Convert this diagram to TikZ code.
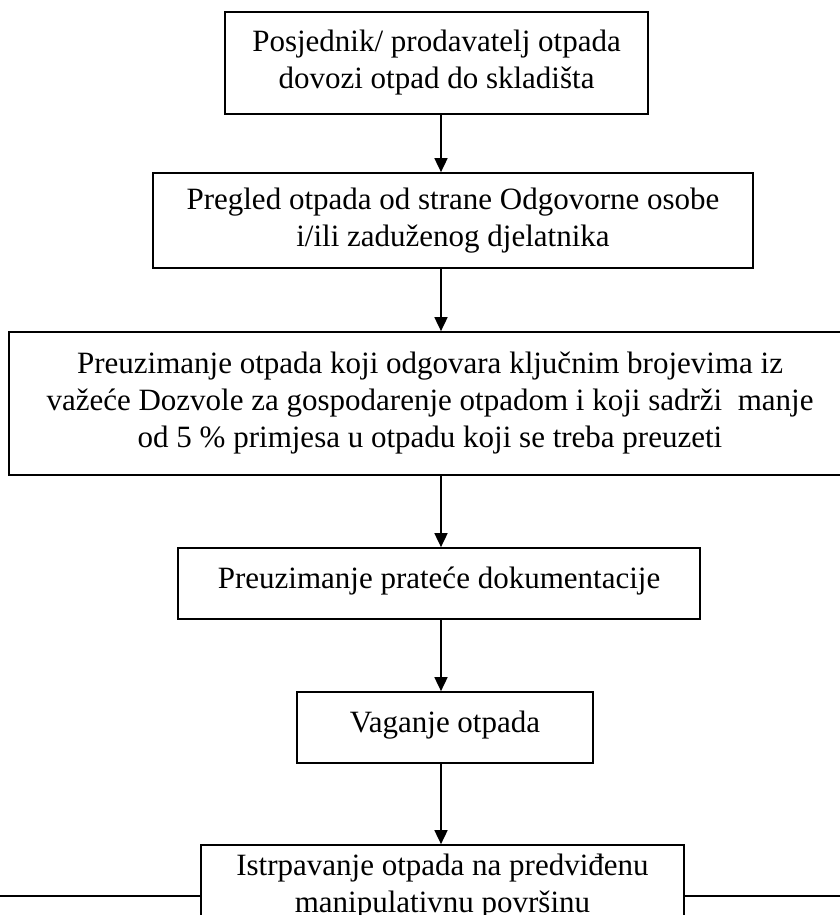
\documentclass[tikz,border=0pt]{standalone}
\usepackage{fontspec}
\setmainfont{Liberation Serif}
\usetikzlibrary{arrows.meta}
\begin{document}
\begin{tikzpicture}[x=1pt,y=-1pt,
  stepbox/.style={draw=black, line width=1.7pt, align=center, inner sep=0pt,
    font=\fontsize{31}{37}\selectfont},
  flow/.style={line width=1.7pt, -{Triangle[length=14pt,width=13pt]}},
  rule/.style={line width=1.3pt}]
\useasboundingbox (0,0) rectangle (840,915);
\clip (0,0) rectangle (840,915);

% process boxes, top to bottom
\node[stepbox, minimum width=423pt, minimum height=102pt] (b1) at (436.5,63)
  {Posjednik/ prodavatelj otpada\\dovozi otpad do skladišta};
\node[stepbox, minimum width=600pt, minimum height=95pt] (b2) at (453,220.5)
  {Pregled otpada od strane Odgovorne osobe\\i/ili zaduženog djelatnika};
\node[stepbox, minimum width=842pt, minimum height=143pt] (b3) at (430,403.5)
  {Preuzimanje otpada koji odgovara ključnim brojevima iz\\
   važeće Dozvole za gospodarenje otpadom i koji sadrži~ manje\\
   od 5 \% primjesa u otpadu koji se treba preuzeti};
\node[stepbox, minimum width=522pt, minimum height=71pt, text depth=12pt] (b4) at (439,583.5)
  {Preuzimanje prateće dokumentacije};
\node[stepbox, minimum width=296pt, minimum height=71pt, text depth=12pt] (b5) at (445,727.5)
  {Vaganje otpada};
\node[stepbox, minimum width=483pt, minimum height=84pt] (b6) at (442.5,887)
  {Istrpavanje otpada na predviđenu\\manipulativnu površinu};

% vertical flow axis
\coordinate (ax) at (441,0);
\draw[flow] (b1.south -| ax) -- (b2.north -| ax);
\draw[flow] (b2.south -| ax) -- (b3.north -| ax);
\draw[flow] (b3.south -| ax) -- (b4.north -| ax);
\draw[flow] (b4.south -| ax) -- (b5.north -| ax);
\draw[flow] (b5.south -| ax) -- (b6.north -| ax);

% horizontal rule running through the last box
\coordinate (rl) at (0,896);
\coordinate (rr) at (840,896);
\draw[rule] (rl) -- (rl -| b6.west);
\draw[rule] (b6.east |- rr) -- (rr);
\end{tikzpicture}
\end{document}
